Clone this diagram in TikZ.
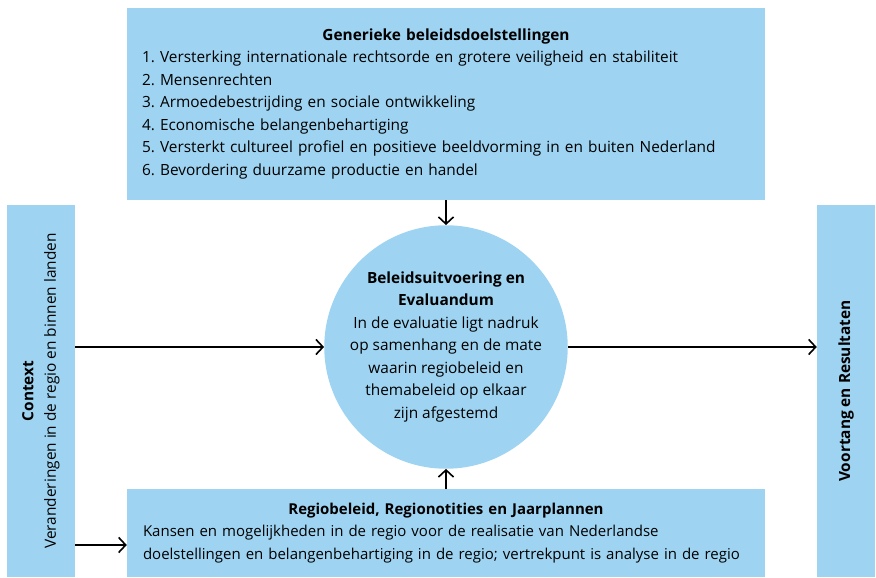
\documentclass[tikz,border=0pt]{standalone}
\usepackage{fontspec}
\setmainfont{Open Sans}
\usepackage{tikz}
\usetikzlibrary{positioning}
\usetikzlibrary{arrows.meta}
\usetikzlibrary{math}
\usetikzlibrary{calc}

\definecolor{lichtblauw}{RGB}{158,212,242}
\hyphenpenalty=10000

\tikzset{
  vlak/.style={fill=lichtblauw, draw=none, inner sep=0pt},
  pijl/.style={-{Straight Barb[length=7pt,width=15pt]}, line width=1.6pt},
  tekst/.style={font=\fontsize{15.4}{22.5}\selectfont\frenchspacing}
}

\begin{document}
\begin{tikzpicture}[x=1pt,y=1pt]

  \tikzmath{
    \breed   = 638; % width of top and bottom box
    \zijhoog = 372; % height of the side boxes
    \straal  = 117; % radius of central circle
  }

  \useasboundingbox (0,0) rectangle (876,578);

  % Generic policy goals
  \node[vlak, tekst, minimum width=\breed, minimum height=192, text width=\breed-30,
        align=left] (doelen) at (446,474)
  {{\centering\bfseries Generieke beleidsdoelstellingen\par}
   1. Versterking internationale rechtsorde en grotere veiligheid en stabiliteit\\
   2. Mensenrechten\\
   3. Armoedebestrijding en sociale ontwikkeling\\
   4. Economische belangenbehartiging\\
   5. Versterkt cultureel profiel en positieve beeldvorming in en buiten Nederland\\
   6. Bevordering duurzame productie en handel};

  % Central circle
  \node[vlak, tekst, circle, minimum size=2*\straal, align=center]
    (kern) at (446,231)
  {\textbf{Beleidsuitvoering en}\\
   \textbf{Evaluandum}\\
   In de evaluatie ligt nadruk\\
   op samenhang en de mate\\
   waarin regiobeleid en\\
   themabeleid op elkaar\\
   zijn afgestemd};

  % Regional policy
  \node[vlak, font=\fontsize{15}{22.5}\selectfont\frenchspacing, minimum width=\breed,
        minimum height=88, text width=\breed-32, align=left] (regio) at (446,45)
  {{\centering\bfseries Regiobeleid, Regionotities en Jaarplannen\par}
   Kansen en mogelijkheden in de regio voor de realisatie van Nederlandse\\
   doelstellingen en belangenbehartiging in de regio; vertrekpunt is analyse in de regio};

  % Side boxes (rotated, so south is the right hand side)
  \node[vlak, tekst, rotate=90, minimum width=\zijhoog, minimum height=68, align=center]
    (context) at (41,187)
  {\textbf{Context}\\Veranderingen in de regio en binnen landen};

  \node[vlak, tekst, rotate=90, minimum width=\zijhoog, minimum height=58, align=center]
    (resultaat) at (846,187)
  {\textbf{Voortang en Resultaten}};

  % connectors
  \coordinate (instap) at ([yshift=-12]regio.west);

  \draw[pijl] (doelen.south) -- (kern.north);
  \draw[pijl] (regio.north) -- (kern.south);
  \draw[pijl] (kern.west -| context.south) -- (kern.west);
  \draw[pijl] (kern.east) -- (kern.east -| resultaat.north);
  \draw[pijl] (instap -| context.south) -- (instap);

\end{tikzpicture}
\end{document}
